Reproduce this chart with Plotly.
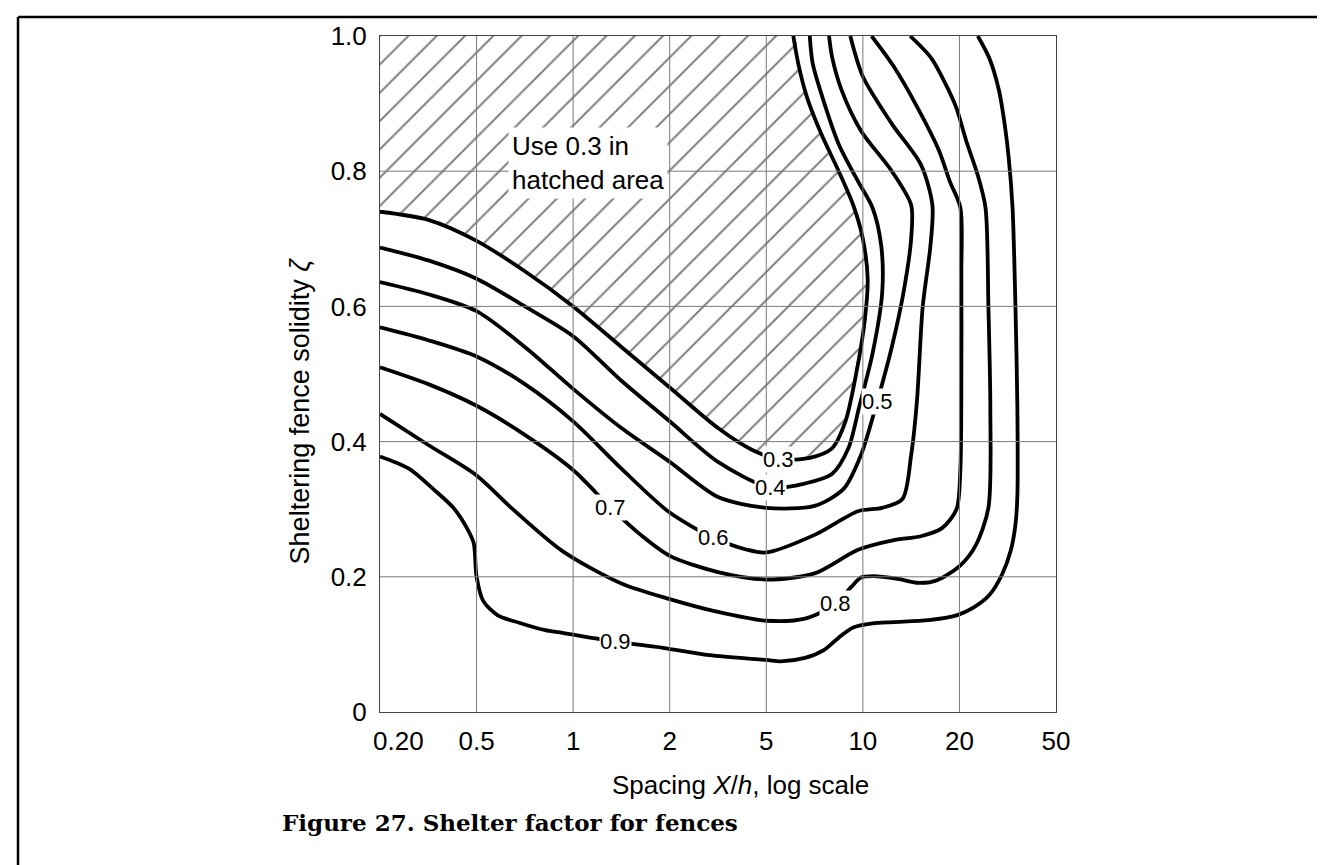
import plotly.graph_objects as go

# x positions are axis-index units: 0->0.20, 1->0.5, 2->1, 3->2, 4->5, 5->10, 6->20, 7->50
x_tick_labels = ["0.20", "0.5", "1", "2", "5", "10", "20", "50"]
x_tick_index = [0, 1, 2, 3, 4, 5, 6, 7]
x_label_pos = [0.19, 1, 2, 3, 4, 5, 6, 7]
y_ticks = [0, 0.2, 0.4, 0.6, 0.8, 1.0]
y_tick_labels = ["0", "0.2", "0.4", "0.6", "0.8", "1.0"]

c03_x = [0, 0.5, 1, 1.5, 2, 2.5, 3, 3.5, 3.85, 4.13, 4.45, 4.68, 4.82, 4.93, 5.02, 5.05, 5.0, 4.9, 4.75, 4.57, 4.42, 4.33, 4.28]
c03_y = [0.74, 0.728, 0.697, 0.652, 0.6, 0.54, 0.48, 0.42, 0.388, 0.374, 0.376, 0.39, 0.43, 0.5, 0.58, 0.64, 0.70, 0.75, 0.80, 0.855, 0.91, 0.96, 1.0]

c04_x = [0, 0.5, 1, 1.5, 2, 2.5, 3, 3.5, 4.04, 4.4, 4.68, 4.85, 4.96, 5.1, 5.2, 5.19, 5.1, 4.95, 4.75, 4.58, 4.48, 4.45]
c04_y = [0.687, 0.668, 0.641, 0.6, 0.556, 0.49, 0.43, 0.37, 0.332, 0.338, 0.352, 0.39, 0.45, 0.53, 0.62, 0.69, 0.746, 0.785, 0.84, 0.91, 0.96, 1.0]

c05_x = [0, 0.5, 1, 1.5, 2, 2.5, 3, 3.5, 4, 4.5, 4.8, 4.98, 5.15, 5.3, 5.42, 5.5, 5.5, 5.3, 4.98, 4.78, 4.68, 4.65]
c05_y = [0.636, 0.618, 0.593, 0.54, 0.478, 0.42, 0.37, 0.318, 0.302, 0.305, 0.33, 0.38, 0.46, 0.54, 0.62, 0.70, 0.75, 0.80, 0.86, 0.92, 0.97, 1.0]

c06_x = [0, 0.5, 1, 1.5, 2, 2.5, 3, 3.45, 3.8, 4, 4.5, 4.95, 5.2, 5.41, 5.5, 5.56, 5.62, 5.7, 5.72, 5.6, 5.3, 5.0, 4.87]
c06_y = [0.569, 0.55, 0.526, 0.485, 0.43, 0.36, 0.295, 0.258, 0.24, 0.236, 0.262, 0.297, 0.302, 0.315, 0.38, 0.46, 0.6, 0.69, 0.75, 0.81, 0.87, 0.94, 1.0]

c07_x = [0, 0.5, 1, 1.5, 2, 2.39, 2.7, 3, 3.5, 4, 4.5, 4.95, 5.31, 5.6, 5.82, 5.97, 6.01, 6.02, 6.02, 6.01, 5.9, 5.79, 5.57, 5.31, 5.09]
c07_y = [0.51, 0.485, 0.453, 0.41, 0.358, 0.302, 0.262, 0.231, 0.207, 0.196, 0.205, 0.24, 0.254, 0.26, 0.272, 0.30, 0.36, 0.5, 0.65, 0.746, 0.785, 0.83, 0.893, 0.957, 1.0]

c08_x = [0, 0.5, 1, 1.36, 1.89, 2.5, 3, 3.5, 4, 4.4, 4.72, 4.88, 4.98, 5.11, 5.36, 5.58, 5.77, 6.01, 6.17, 6.3, 6.32, 6.3, 6.27, 6.19, 6.07, 5.97, 5.86, 5.71, 5.49]
c08_y = [0.441, 0.395, 0.35, 0.302, 0.238, 0.19, 0.167, 0.148, 0.135, 0.138, 0.16, 0.185, 0.199, 0.201, 0.197, 0.191, 0.195, 0.217, 0.247, 0.302, 0.45, 0.6, 0.746, 0.794, 0.845, 0.893, 0.928, 0.967, 1.0]

c09_x = [0, 0.3, 0.55, 0.76, 0.9, 0.97, 1.0, 1.07, 1.22, 1.44, 1.71, 1.89, 2.44, 2.93, 3.41, 4.0, 4.15, 4.4, 4.6, 4.75, 4.9, 5.1, 5.31, 5.68, 5.97, 6.14, 6.31, 6.44, 6.53, 6.58, 6.6, 6.6, 6.58, 6.55, 6.51, 6.47, 6.41, 6.31, 6.19]
c09_y = [0.378, 0.36, 0.33, 0.302, 0.272, 0.25, 0.20, 0.164, 0.143, 0.132, 0.121, 0.117, 0.104, 0.095, 0.084, 0.077, 0.075, 0.08, 0.092, 0.11, 0.125, 0.131, 0.133, 0.136, 0.143, 0.154, 0.173, 0.203, 0.238, 0.277, 0.32, 0.45, 0.6, 0.746, 0.82, 0.868, 0.919, 0.967, 1.0]

curves = [
    ("0.3", c03_x, c03_y, 4.13, 0.374),
    ("0.4", c04_x, c04_y, 4.04, 0.332),
    ("0.5", c05_x, c05_y, 5.15, 0.46),
    ("0.6", c06_x, c06_y, 3.45, 0.258),
    ("0.7", c07_x, c07_y, 2.39, 0.302),
    ("0.8", c08_x, c08_y, 4.72, 0.16),
    ("0.9", c09_x, c09_y, 2.44, 0.104),
]

SANS = "Liberation Sans, Arial, Helvetica"
fig = go.Figure()

# hatched area (region above/left of the 0.3 curve)
fig.add_trace(go.Scatter(
    x=c03_x + [2.0, 0], y=c03_y + [1.0, 1.0], mode="lines", fill="toself",
    fillcolor="rgba(0,0,0,0)", line=dict(width=0, shape="spline", smoothing=0.8),
    fillpattern=dict(shape="/", size=20, solidity=0.1, fgcolor="black", bgcolor="white"),
    hoverinfo="skip", showlegend=False))

# grid lines
for xv in x_tick_index[1:-1]:
    fig.add_shape(type="line", xref="x", yref="y", x0=xv, x1=xv, y0=0, y1=1,
                  line=dict(color="#7a7a7a", width=1), layer="above")
for yv in y_ticks[1:-1]:
    fig.add_shape(type="line", xref="x", yref="y", x0=0, x1=7, y0=yv, y1=yv,
                  line=dict(color="#7a7a7a", width=1), layer="above")

for name, xs, ys, lx, ly in curves:
    fig.add_trace(go.Scatter(x=xs, y=ys, mode="lines",
                             line=dict(color="black", width=3.8, shape="spline", smoothing=0.8),
                             hoverinfo="skip", showlegend=False))
    fig.add_annotation(x=lx, y=ly, text=name, showarrow=False, bgcolor="white",
                       font=dict(family=SANS, size=22, color="black"), borderpad=0)

fig.add_annotation(x=1.33, y=0.812, xanchor="left", yanchor="middle", align="left", showarrow=False,
                   text="Use 0.3 in<br>hatched area", bgcolor="white", borderpad=3,
                   font=dict(family=SANS, size=26, color="black"))

fig.update_xaxes(range=[0, 7], tickvals=x_label_pos, ticktext=x_tick_labels,
                 showgrid=False, zeroline=False, showline=True, mirror=True, linecolor="#444", linewidth=1,
                 ticks="", ticklabelstandoff=6,
                 tickfont=dict(family=SANS, size=26, color="black"))
fig.update_yaxes(range=[0, 1], tickvals=y_ticks, ticktext=y_tick_labels,
                 showgrid=False, zeroline=False, showline=True, mirror=True, linecolor="#444", linewidth=1,
                 ticks="", ticklabelstandoff=7,
                 tickfont=dict(family=SANS, size=26, color="black"))

# axis titles
fig.add_annotation(xref="paper", yref="paper", x=0.534, y=-0.108, xanchor="center", yanchor="middle",
                   text="Spacing <i>X</i>/<i>h</i>, log scale", showarrow=False,
                   font=dict(family=SANS, size=26, color="black"))
fig.add_annotation(xref="paper", yref="paper", x=-0.118, y=0.445, xanchor="center", yanchor="middle",
                   textangle=-90, text="Sheltering fence solidity <i>ζ</i>", showarrow=False,
                   font=dict(family=SANS, size=27, color="black"))

# page frame
fig.add_shape(type="line", xref="paper", yref="paper", x0=-0.5355, x1=-0.5355, y0=1.028, y1=-0.3,
              line=dict(color="black", width=2.5))
fig.add_shape(type="line", xref="paper", yref="paper", x0=-0.5355, x1=1.4, y0=1.028, y1=1.028,
              line=dict(color="black", width=2.5))
fig.add_shape(type="line", xref="paper", yref="paper", x0=1.4, x1=1.4, y0=1.028, y1=-0.3,
              line=dict(color="black", width=2.5))

fig.add_annotation(xref="paper", yref="paper", x=-0.148, y=-0.164, xanchor="left", yanchor="middle",
                   text="<b>Figure 27. Shelter factor for fences</b>", showarrow=False,
                   font=dict(family="DejaVu Serif", size=23, color="black"))

fig.update_layout(width=1325, height=865, margin=dict(l=372, r=277, t=28, b=161),
                  paper_bgcolor="white", plot_bgcolor="white")

fig.write_html("out.html")
